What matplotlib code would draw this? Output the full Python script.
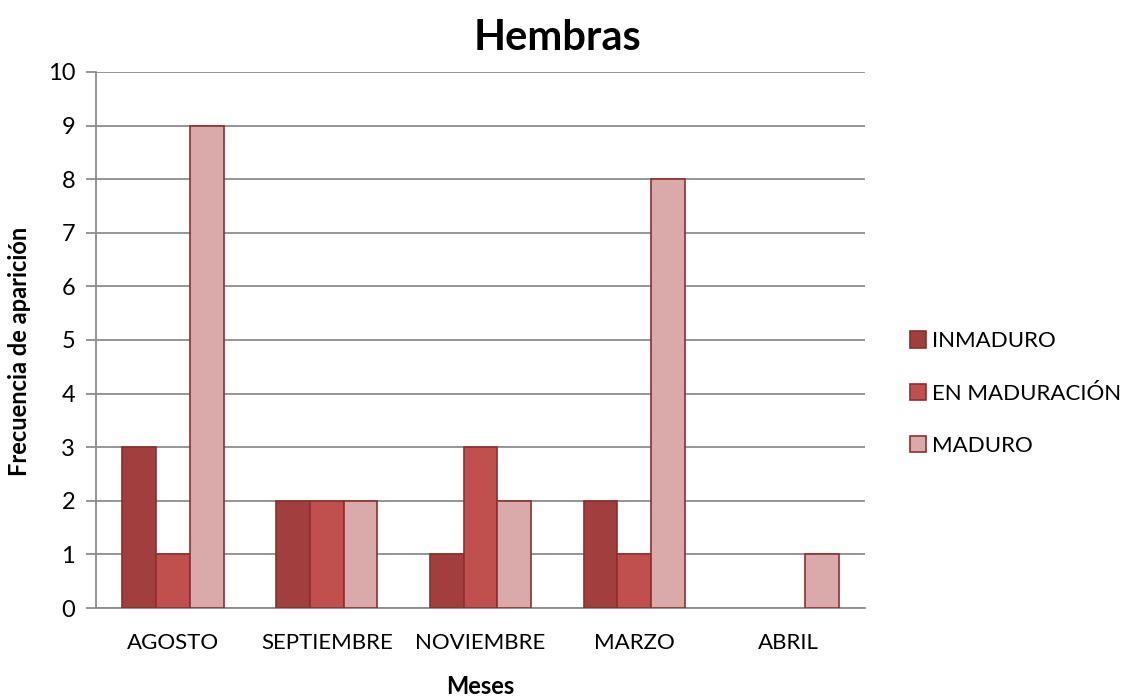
import matplotlib
matplotlib.use('Agg')
import matplotlib.pyplot as plt
import numpy as np

meses = ['AGOSTO', 'SEPTIEMBRE', 'NOVIEMBRE', 'MARZO', 'ABRIL']
inmaduro = [3, 2, 1, 2, 0]
en_maduracion = [1, 2, 3, 1, 0]
maduro = [9, 2, 2, 8, 1]
series_names = ['INMADURO', 'EN MADURACIÓN', 'MADURO']

plt.rcParams['font.family'] = ['Lato', 'DejaVu Sans']

colores = ['#A03F3E', '#C0504D', '#DAA9A9']
borde = '#8C2F2F'

fig = plt.figure(figsize=(11.37, 6.96), dpi=100)
ax = fig.add_axes([0.0844, 0.1264, 0.6764, 0.7702])

x = np.arange(len(meses))
w = 0.22
for i, (vals, name) in enumerate(zip([inmaduro, en_maduracion, maduro], series_names)):
    lw = [1.2 if v > 0 else 0 for v in vals]
    ax.bar(x + (i - 1) * w, vals, w, color=colores[i], edgecolor=borde,
           linewidth=lw, label=name, zorder=3)

ax.set_xlim(-0.5, len(meses) - 0.5)
ax.set_ylim(0, 10)
ax.set_yticks(range(0, 11))
ax.set_xticks(x)
ax.set_xticklabels(meses)
ax.yaxis.grid(True, color='#8c8c8c', linewidth=1.3, zorder=0)
ax.tick_params(axis='y', length=7, color='#8c8c8c', width=1.3, labelsize=17, pad=8)
ax.tick_params(axis='x', length=0, labelsize=16, pad=18)
for s in ['top', 'right']:
    ax.spines[s].set_visible(False)
for s in ['left', 'bottom']:
    ax.spines[s].set_color('#8c8c8c')
    ax.spines[s].set_linewidth(1.3)

ax.set_title('Hembras', fontsize=30, fontweight='bold', pad=16, x=0.6)
ax.set_xlabel('Meses', fontsize=17, fontweight='bold', labelpad=16)
ax.set_ylabel('Frecuencia de aparición', fontsize=17, fontweight='bold')
ax.yaxis.set_label_coords(-0.084, 0.478)

leg = ax.legend(loc='center left', bbox_to_anchor=(1.058, 0.40), frameon=False,
                fontsize=16, handlelength=0.75, handleheight=0.75, handletextpad=0.25,
                labelspacing=1.45, borderpad=0, borderaxespad=0)

fig.savefig('out.png', dpi=100)
